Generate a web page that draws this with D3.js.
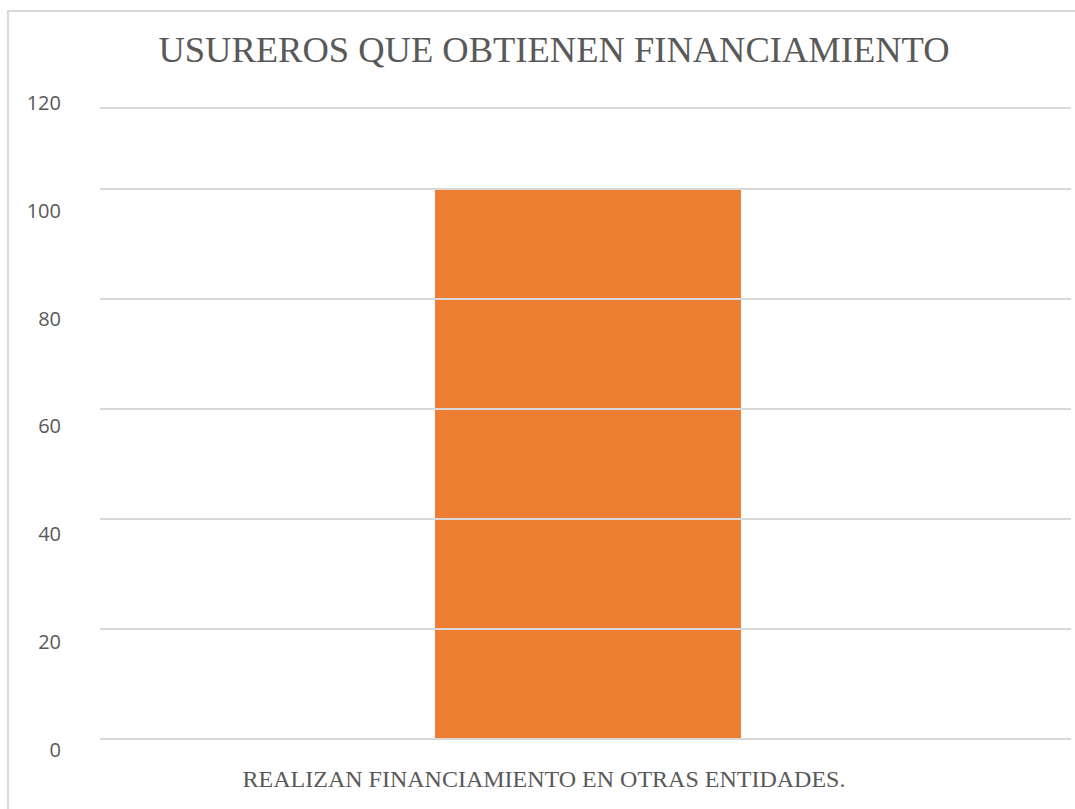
<!DOCTYPE html>
<html>
<head>
<meta charset="utf-8">
<script src="https://cdn.jsdelivr.net/npm/d3@7"></script>
<style>
  body { margin: 0; background: #fff; }
</style>
</head>
<body>
<div id="chart"></div>
<script>
var title = "USUREROS QUE OBTIENEN FINANCIAMIENTO";
var categories = ["REALIZAN FINANCIAMIENTO EN OTRAS ENTIDADES."];
var values = [100];
var yTicks = [0, 20, 40, 60, 80, 100, 120];

var w = 1075, h = 809;

var svg = d3.select("#chart").append("svg")
            .attr("width", w)
            .attr("height", h);

// chart border (right and bottom edges fall off the picture)
svg.append("rect")
   .attr("x", 8).attr("y", 11)
   .attr("width", 1100).attr("height", 830)
   .attr("fill", "none")
   .attr("stroke", "#d9d9d9")
   .attr("stroke-width", 2);

// grid / bar scale (the top step is squeezed in the source picture)
var yScale = d3.scaleLinear()
               .domain([0, 100, 120])
               .range([739, 189, 108]);

// labels sit on their own slightly shifted scale
var yLabel = d3.scaleLinear()
               .domain([0, 120])
               .range([750, 103]);

var xScale = d3.scaleBand()
               .domain(categories)
               .range([102.5, 1073.5])
               .paddingInner(0)
               .paddingOuter(1.087);

// bars
svg.selectAll("rect.bar")
   .data(values)
   .enter()
   .append("rect")
   .attr("class", "bar")
   .attr("x", (d, i) => xScale(categories[i]))
   .attr("y", d => yScale(d))
   .attr("width", xScale.bandwidth())
   .attr("height", d => yScale(0) - yScale(d))
   .attr("fill", "#ed7d31");

// gridlines on top of bar
svg.selectAll("line.grid")
   .data(yTicks)
   .enter()
   .append("line")
   .attr("class", "grid")
   .attr("x1", 100).attr("x2", 1071)
   .attr("y1", d => yScale(d)).attr("y2", d => yScale(d))
   .attr("stroke", "#d9d9d9")
   .attr("stroke-width", 2);

// y labels
var yAxis = d3.axisLeft(yLabel).tickValues(yTicks).tickSize(0).tickPadding(0);
var yAxisGroup = svg.append("g")
                    .attr("transform", "translate(61,0)")
                    .call(yAxis);
yAxisGroup.select(".domain").remove();
yAxisGroup.selectAll("text")
          .attr("fill", "#595959")
          .style("font-family", "'Open Sans', 'Noto Sans', sans-serif")
          .style("font-size", "20px");

// category label
svg.selectAll("text.cat")
   .data(categories)
   .enter()
   .append("text")
   .attr("class", "cat")
   .attr("x", d => xScale(d) + xScale.bandwidth() / 2 - 44)
   .attr("y", 787)
   .attr("text-anchor", "middle")
   .attr("fill", "#595959")
   .style("font-family", "'Liberation Serif', 'Times New Roman', serif")
   .style("font-size", "24px")
   .text(d => d);

// title
svg.append("text")
   .attr("x", 554)
   .attr("y", 62)
   .attr("text-anchor", "middle")
   .attr("fill", "#595959")
   .style("font-family", "'Liberation Serif', 'Times New Roman', serif")
   .style("font-size", "36.5px")
   .text(title);
</script>
</body>
</html>
